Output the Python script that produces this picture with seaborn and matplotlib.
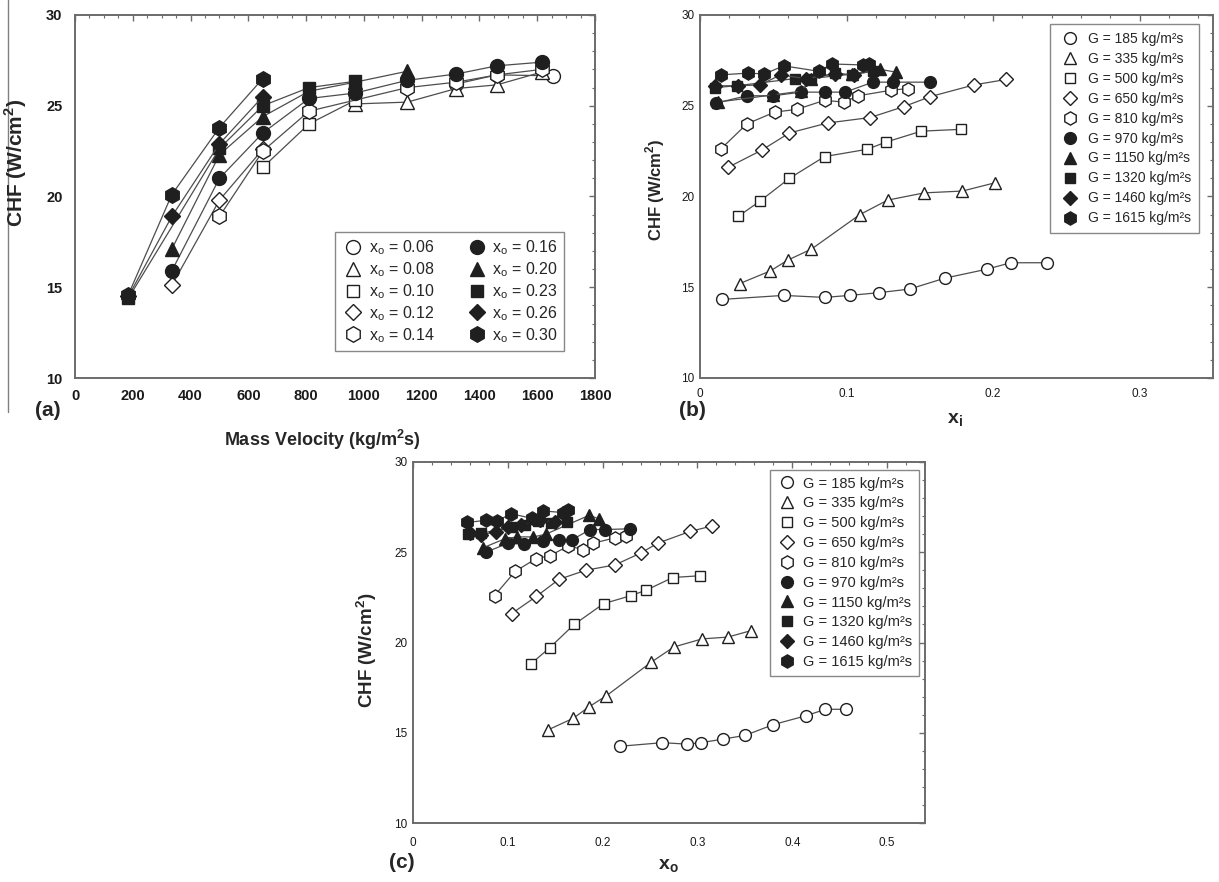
import numpy as np
import pandas as pd
import matplotlib
matplotlib.use("Agg")
import matplotlib.pyplot as plt
import seaborn as sns
from matplotlib.lines import Line2D
from matplotlib.ticker import MultipleLocator

# ---------------- data: panel (a)  CHF vs mass velocity, by outlet quality ----------------
xo_labels = ["0.06", "0.08", "0.10", "0.12", "0.14", "0.16", "0.20", "0.23", "0.26", "0.30"]
a_G = {
    "0.06": [1320, 1460, 1655],
    "0.08": [970, 1150, 1320, 1460, 1615],
    "0.10": [650, 810, 970],
    "0.12": [335, 500, 650],
    "0.14": [500, 650, 810, 1150, 1320, 1460, 1615],
    "0.16": [335, 500, 650, 810, 970, 1150, 1320, 1460, 1615],
    "0.20": [335, 500, 650, 810, 970, 1150],
    "0.23": [185, 500, 650, 810, 970],
    "0.26": [185, 335, 500, 650],
    "0.30": [185, 335, 500, 650],
}
a_CHF = {
    "0.06": [26.2, 26.7, 26.65],
    "0.08": [25.1, 25.2, 25.95, 26.15, 26.85],
    "0.10": [21.6, 24.0, 25.3],
    "0.12": [15.1, 19.8, 22.6],
    "0.14": [18.9, 22.5, 24.7, 26.0, 26.3, 26.7, 27.0],
    "0.16": [15.9, 21.0, 23.5, 25.4, 25.7, 26.4, 26.75, 27.2, 27.4],
    "0.20": [17.1, 22.3, 24.4, 25.8, 26.3, 26.9],
    "0.23": [14.4, 22.65, 25.0, 26.0, 26.35],
    "0.26": [14.5, 18.9, 22.9, 25.5],
    "0.30": [14.6, 20.1, 23.8, 26.5],
}

# ---------------- data: panels (b) and (c), CHF vs quality, by mass velocity ----------------
G_labels = ["185", "335", "500", "650", "810", "970", "1150", "1320", "1460", "1615"]
b_xi = {
    "185": [0.015, 0.057, 0.085, 0.102, 0.122, 0.143, 0.167, 0.196, 0.212, 0.237],
    "335": [0.027, 0.048, 0.060, 0.076, 0.109, 0.128, 0.153, 0.179, 0.201],
    "500": [0.026, 0.041, 0.061, 0.085, 0.114, 0.127, 0.151, 0.178],
    "650": [0.019, 0.042, 0.061, 0.087, 0.116, 0.139, 0.157, 0.187, 0.209],
    "810": [0.014, 0.032, 0.051, 0.066, 0.085, 0.098, 0.108, 0.130, 0.142],
    "970": [0.011, 0.032, 0.050, 0.069, 0.085, 0.099, 0.118, 0.132, 0.157],
    "1150": [0.012, 0.050, 0.069, 0.076, 0.104, 0.123, 0.134],
    "1320": [0.010, 0.025, 0.065, 0.076, 0.092, 0.104, 0.118],
    "1460": [0.010, 0.026, 0.041, 0.055, 0.072, 0.092, 0.105],
    "1615": [0.014, 0.033, 0.044, 0.057, 0.081, 0.090, 0.111, 0.115],
}
b_CHF = {
    "185": [14.33, 14.55, 14.44, 14.55, 14.7, 14.9, 15.5, 16.0, 16.35, 16.35],
    "335": [15.2, 15.9, 16.5, 17.1, 19.0, 19.8, 20.2, 20.3, 20.75],
    "500": [18.9, 19.75, 21.0, 22.2, 22.6, 23.0, 23.6, 23.7],
    "650": [21.6, 22.55, 23.5, 24.05, 24.35, 24.95, 25.5, 26.15, 26.45],
    "810": [22.6, 24.0, 24.65, 24.8, 25.3, 25.2, 25.55, 25.85, 25.95],
    "970": [25.15, 25.55, 25.55, 25.75, 25.75, 25.75, 26.3, 26.3, 26.3],
    "1150": [25.2, 25.6, 25.8, 26.5, 26.75, 27.0, 26.85],
    "1320": [26.0, 26.1, 26.5, 26.5, 26.8, 26.7, 26.9],
    "1460": [26.1, 26.1, 26.15, 26.7, 26.5, 26.75, 26.7],
    "1615": [26.7, 26.8, 26.75, 27.2, 26.9, 27.3, 27.25, 27.3],
}
c_xo = {
    "185": [0.218, 0.263, 0.289, 0.304, 0.327, 0.350, 0.380, 0.415, 0.435, 0.457],
    "335": [0.142, 0.169, 0.186, 0.204, 0.251, 0.275, 0.305, 0.332, 0.356],
    "500": [0.124, 0.144, 0.170, 0.201, 0.230, 0.246, 0.274, 0.303],
    "650": [0.104, 0.130, 0.154, 0.182, 0.213, 0.240, 0.258, 0.292, 0.315],
    "810": [0.086, 0.108, 0.130, 0.144, 0.164, 0.179, 0.190, 0.213, 0.225],
    "970": [0.077, 0.100, 0.117, 0.137, 0.154, 0.168, 0.187, 0.203, 0.229],
    "1150": [0.074, 0.097, 0.110, 0.127, 0.140, 0.186, 0.196],
    "1320": [0.058, 0.072, 0.104, 0.118, 0.132, 0.146, 0.162],
    "1460": [0.060, 0.072, 0.088, 0.100, 0.114, 0.134, 0.150],
    "1615": [0.057, 0.077, 0.089, 0.103, 0.126, 0.137, 0.158, 0.163],
}
c_CHF = {
    "185": [14.25, 14.45, 14.37, 14.45, 14.65, 14.85, 15.45, 15.95, 16.3, 16.3],
    "335": [15.15, 15.8, 16.45, 17.05, 18.9, 19.75, 20.2, 20.3, 20.65],
    "500": [18.8, 19.7, 21.0, 22.15, 22.6, 22.9, 23.6, 23.7],
    "650": [21.6, 22.55, 23.5, 24.0, 24.3, 24.95, 25.5, 26.15, 26.45],
    "810": [22.6, 23.95, 24.65, 24.8, 25.35, 25.15, 25.5, 25.8, 25.9],
    "970": [25.0, 25.5, 25.45, 25.65, 25.7, 25.7, 26.26, 26.26, 26.3],
    "1150": [25.25, 25.75, 25.85, 25.85, 26.0, 27.05, 26.85],
    "1320": [26.0, 26.05, 26.4, 26.5, 26.75, 26.6, 26.7],
    "1460": [26.05, 25.98, 26.13, 26.4, 26.5, 26.8, 26.65],
    "1615": [26.65, 26.77, 26.72, 27.14, 26.87, 27.29, 27.2, 27.33],
}

# marker styles: 5 open then 5 filled
shapes = ["o", "^", "s", "D", "h", "o", "^", "s", "D", "h"]
filled = [False] * 5 + [True] * 5
size_fac = {"o": 1.0, "^": 1.0, "s": 0.88, "D": 0.78, "h": 1.12}

# ---------------- figure ----------------
sns.set_theme(style="white")
plt.rcParams["font.family"] = ["Liberation Sans", "DejaVu Sans"]
plt.rcParams["mathtext.fontset"] = "custom"
plt.rcParams["mathtext.rm"] = "Liberation Sans"
plt.rcParams["mathtext.bf"] = "Liberation Sans:bold"

W, H = 1219, 882
fig = plt.figure(figsize=(W / 100, H / 100), dpi=100)


def ax_px(x0, y0, x1, y1):
    return fig.add_axes([x0 / W, 1 - y1 / H, (x1 - x0) / W, (y1 - y0) / H])


LINE_C = "0.3"
EDGE_C = "0.12"
FRAME_C = "0.42"


def style_axes(ax, tick_fs, bold, xpad, ypad):
    for sp in ax.spines.values():
        sp.set_color(FRAME_C)
        sp.set_linewidth(1.4)
        sp.set_visible(True)
    ax.tick_params(which="both", direction="in", top=True, right=True,
                   colors=FRAME_C, labelcolor="0.1", labelsize=tick_fs)
    ax.tick_params(which="major", length=4, width=1)
    ax.tick_params(which="minor", length=2.5, width=0.8)
    ax.tick_params(axis="x", which="major", pad=xpad)
    ax.tick_params(axis="y", which="major", pad=ypad)
    for t in ax.get_xticklabels() + ax.get_yticklabels():
        t.set_fontweight("bold" if bold else "normal")
    ax.grid(False)
    ax.set_facecolor("white")


def draw_series(ax, x, y, shape, fill, ms, mew=1.0):
    df = pd.DataFrame({"x": x, "y": y})
    sns.lineplot(data=df, x="x", y="y", ax=ax, sort=False, estimator=None,
                 color=LINE_C, lw=0.9, marker=shape, markersize=ms * size_fac[shape],
                 markerfacecolor=(EDGE_C if fill else "white"),
                 markeredgecolor=EDGE_C, markeredgewidth=mew, legend=False)


def handles_for(ms):
    return [Line2D([], [], ls="none", marker=s, markersize=ms * size_fac[s],
                   markerfacecolor=(EDGE_C if f else "white"),
                   markeredgecolor=EDGE_C, markeredgewidth=1.0)
            for s, f in zip(shapes, filled)]


# ---------------- panel (a) ----------------
A = (75, 15, 595, 378)
axa = ax_px(*A)
for lab, s, f in zip(xo_labels, shapes, filled):
    draw_series(axa, a_G[lab], a_CHF[lab], s, f, 10)
axa.set_xlim(0, 1800)
axa.set_ylim(10, 30)
axa.xaxis.set_major_locator(MultipleLocator(200))
axa.xaxis.set_minor_locator(MultipleLocator(50))
axa.yaxis.set_major_locator(MultipleLocator(5))
axa.yaxis.set_minor_locator(MultipleLocator(1))
axa.set_xlabel("")
axa.set_ylabel("")
style_axes(axa, 10.5, True, 8, 9)
leg = axa.legend(handles_for(10), [r"x$_\mathregular{o}$ = " + l for l in xo_labels],
                 ncol=2, loc="upper left",
                 bbox_to_anchor=((335 - A[0]) / (A[2] - A[0]), 1 - (232 - A[1]) / (A[3] - A[1])),
                 borderaxespad=0, fontsize=11.5, frameon=True, fancybox=False,
                 edgecolor=FRAME_C, handletextpad=0.2, columnspacing=1.9, borderpad=0.4,
                 labelspacing=0.2, handlelength=1.5)
leg.get_frame().set_linewidth(1.0)

# ---------------- panel (b) ----------------
B = (700, 15, 1213, 378)
axb = ax_px(*B)
for lab, s, f in zip(G_labels, shapes, filled):
    draw_series(axb, b_xi[lab], b_CHF[lab], s, f, 8.5)
axb.set_xlim(0, 0.35)
axb.set_ylim(10, 30)
axb.xaxis.set_minor_locator(MultipleLocator(0.02))
axb.yaxis.set_major_locator(MultipleLocator(5))
axb.yaxis.set_minor_locator(MultipleLocator(1))
axb.set_xticks([0, 0.1, 0.2, 0.3])
axb.set_xticklabels(["0", "0.1", "0.2", "0.3"])
axb.set_xlabel("")
axb.set_ylabel("")
style_axes(axb, 8.5, False, 7, 4)
legb = axb.legend(handles_for(8.5), ["G = " + l + " kg/m²s" for l in G_labels],
                  loc="upper right",
                  bbox_to_anchor=((1199 - B[0]) / (B[2] - B[0]), 1 - (24 - B[1]) / (B[3] - B[1])),
                  borderaxespad=0, fontsize=10, frameon=True, fancybox=False,
                  edgecolor=FRAME_C, handletextpad=0.37, borderpad=0.55,
                  labelspacing=0.43, handlelength=1.8)
legb.get_frame().set_linewidth(1.0)

# ---------------- panel (c) ----------------
C = (413, 462, 925, 823)
axc = ax_px(*C)
for lab, s, f in zip(G_labels, shapes, filled):
    draw_series(axc, c_xo[lab], c_CHF[lab], s, f, 8.5)
axc.set_xlim(0, 0.54)
axc.set_ylim(10, 30)
axc.xaxis.set_minor_locator(MultipleLocator(0.02))
axc.yaxis.set_major_locator(MultipleLocator(5))
axc.yaxis.set_minor_locator(MultipleLocator(1))
axc.set_xticks([0, 0.1, 0.2, 0.3, 0.4, 0.5])
axc.set_xticklabels(["0", "0.1", "0.2", "0.3", "0.4", "0.5"])
axc.set_xlabel("")
axc.set_ylabel("")
style_axes(axc, 8.5, False, 10, 4)
legc = axc.legend(handles_for(8.5), ["G = " + l + " kg/m²s" for l in G_labels],
                  loc="upper left",
                  bbox_to_anchor=((770 - C[0]) / (C[2] - C[0]), 1 - (470 - C[1]) / (C[3] - C[1])),
                  borderaxespad=0, fontsize=10.5, frameon=True, fancybox=False,
                  edgecolor=FRAME_C, handletextpad=0.35, borderpad=0.45,
                  labelspacing=0.4, handlelength=1.45)
legc.get_frame().set_linewidth(1.0)

# ---------------- labels ----------------
def ftext(x, y, s, **kw):
    fig.text(x / W, 1 - y / H, s, **kw)

ylab = r"CHF (W/cm$^\mathbf{2}$)"
ftext(16, 163, ylab, rotation=90, ha="center", va="center", fontsize=15, fontweight="bold")
ftext(322, 440, r"Mass Velocity (kg/m$^\mathbf{2}$s)", ha="center", va="center",
      fontsize=13, fontweight="bold")
ftext(48, 410, "(a)", ha="center", va="center", fontsize=15, fontweight="bold")

ftext(655, 190, ylab, rotation=90, ha="center", va="center", fontsize=12, fontweight="bold")
ftext(955, 420, r"x$_\mathbf{i}$", ha="center", va="center", fontsize=14, fontweight="bold")
ftext(692, 410, "(b)", ha="center", va="center", fontsize=15, fontweight="bold")

ftext(367, 650, ylab, rotation=90, ha="center", va="center", fontsize=13.5, fontweight="bold")
ftext(668, 866, r"x$_\mathbf{o}$", ha="center", va="center", fontsize=14, fontweight="bold")
ftext(402, 862, "(c)", ha="center", va="center", fontsize=15, fontweight="bold")

# thin vertical rule at the left edge of the top row
fig.add_artist(Line2D([8 / W, 8 / W], [1.0, 1 - 412 / H], color="0.5", lw=1.0))

fig.savefig("out.png", dpi=100, facecolor="white")
